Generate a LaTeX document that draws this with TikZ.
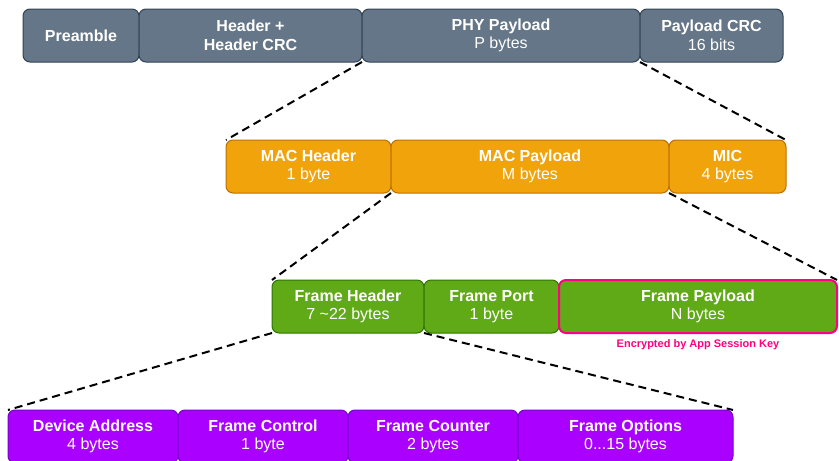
\documentclass[tikz,border=0pt]{standalone}
\usepackage{fontspec}
\setmainfont{Liberation Sans}
\usetikzlibrary{positioning}

\definecolor{phyfill}{HTML}{647687}
\definecolor{phyline}{HTML}{314354}
\definecolor{macfill}{HTML}{F0A30A}
\definecolor{macline}{HTML}{BD7000}
\definecolor{frmfill}{HTML}{60A917}
\definecolor{frmline}{HTML}{2D7600}
\definecolor{fhdrfill}{HTML}{AA00FF}
\definecolor{fhdrline}{HTML}{7700CC}
\definecolor{cryptpink}{HTML}{FF0080}

\tikzset{
	field/.style={rectangle, rounded corners=7pt, draw, line width=1pt, minimum height=53pt,
		inner sep=0pt, outer sep=0pt, text=white, align=center, font=\fontsize{16}{18.5}\selectfont},
	phyfield/.style={field, fill=phyfill, draw=phyline},
	macfield/.style={field, fill=macfill, draw=macline},
	frmfield/.style={field, fill=frmfill, draw=frmline},
	fhdrfield/.style={field, fill=fhdrfill, draw=fhdrline},
	zoomline/.style={line width=2pt, dash pattern=on 8pt off 5pt},
}

\begin{document}
\begin{tikzpicture}[x=1pt, y=1pt]
	\useasboundingbox (0,0) rectangle (839,-461);

	% PHY layer
	\node[phyfield, minimum width=116pt, anchor=north west] (preamble) at (23,-9) {\textbf{Preamble}};
	\node[phyfield, minimum width=223pt, right=0pt of preamble] (phyhdr) {\textbf{Header +}\\\textbf{Header CRC}};
	\node[phyfield, minimum width=278pt, right=0pt of phyhdr] (phypay) {\textbf{PHY Payload}\\P bytes};
	\node[phyfield, minimum width=143pt, right=0pt of phypay] (phycrc) {\textbf{Payload CRC}\\16 bits};

	% MAC layer
	\node[macfield, minimum width=165pt, anchor=north west] (machdr) at (226,-140) {\textbf{MAC Header}\\1 byte};
	\node[macfield, minimum width=278pt, right=0pt of machdr] (macpay) {\textbf{MAC Payload}\\M bytes};
	\node[macfield, minimum width=117pt, right=0pt of macpay] (mic) {\textbf{MIC}\\4 bytes};

	% MAC payload
	\node[frmfield, minimum width=152pt, anchor=north west] (fhdr) at (272,-280) {\textbf{Frame Header}\\7 \textasciitilde22 bytes};
	\node[frmfield, minimum width=135pt, right=0pt of fhdr] (fport) {\textbf{Frame Port}\\1 byte};
	\node[frmfield, minimum width=278pt, right=0pt of fport, draw=cryptpink, line width=2pt] (fpay) {\textbf{Frame Payload}\\N bytes};
	\node[below=3pt of fpay, text=cryptpink, font=\fontsize{11}{12}\selectfont\bfseries] (crypt) {Encrypted by App Session Key};

	% frame header
	\node[fhdrfield, minimum width=170pt, anchor=north west] (devaddr) at (8,-410) {\textbf{Device Address}\\4 bytes};
	\node[fhdrfield, minimum width=170pt, right=0pt of devaddr] (fctrl) {\textbf{Frame Control}\\1 byte};
	\node[fhdrfield, minimum width=170pt, right=0pt of fctrl] (fcnt) {\textbf{Frame Counter}\\2 bytes};
	\node[fhdrfield, minimum width=215pt, right=0pt of fcnt] (fopts) {\textbf{Frame Options}\\0...15 bytes};

	% zoom lines between layers
	\draw[zoomline] (phypay.south west) -- (machdr.north west);
	\draw[zoomline] (phypay.south east) -- (mic.north east);
	\draw[zoomline] (macpay.south west) -- (fhdr.north west);
	\draw[zoomline] (macpay.south east) -- (fpay.north east);
	\draw[zoomline] (fhdr.south west) -- (devaddr.north west);
	\draw[zoomline] (fhdr.south east) -- (fopts.north east);
\end{tikzpicture}
\end{document}
